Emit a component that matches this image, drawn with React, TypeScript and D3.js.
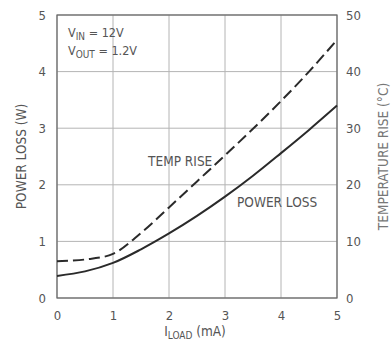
import React, { useEffect, useRef } from "react";
import * as d3 from "d3";

// load current (mA)
const iLoad = [0, 0.5, 1, 1.5, 2, 2.5, 3, 3.5, 4, 4.5, 5];
// power loss (W), left axis
const powerLoss = [0.39, 0.47, 0.62, 0.86, 1.14, 1.45, 1.79, 2.16, 2.56, 2.97, 3.4];
// temperature rise (°C), right axis
const tempRise = [6.5, 6.8, 7.8, 11.5, 16.0, 20.6, 25.2, 29.9, 34.8, 40.0, 45.6];

const xTicks = [0, 1, 2, 3, 4, 5];
const leftTicks = [0, 1, 2, 3, 4, 5];
const rightTicks = [0, 10, 20, 30, 40, 50];

const W = 391;
const H = 343;

const App = () => {
  const ref = useRef<SVGSVGElement>(null);

  useEffect(() => {
    const svg = d3.select(ref.current);
    svg.selectAll("*").remove();

    const m = { top: 15, right: 54, bottom: 45, left: 57 };
    const iw = W - m.left - m.right;
    const ih = H - m.top - m.bottom;
    const font = "'Liberation Sans Narrow', 'DejaVu Sans Condensed', sans-serif";
    const txt = "#555";

    const x = d3.scaleLinear().domain([0, 5]).range([0, iw]);
    const yL = d3.scaleLinear().domain([0, 5]).range([ih, 0]);
    const yR = d3.scaleLinear().domain([0, 50]).range([ih, 0]);

    const g = svg.append("g").attr("transform", `translate(${m.left},${m.top})`);

    // grid
    g.selectAll(".vgrid").data(xTicks).enter().append("line")
      .attr("x1", d => x(d)).attr("x2", d => x(d))
      .attr("y1", 0).attr("y2", ih)
      .attr("stroke", "#b4b4b4").attr("stroke-width", 1);
    g.selectAll(".hgrid").data(leftTicks).enter().append("line")
      .attr("y1", d => yL(d)).attr("y2", d => yL(d))
      .attr("x1", 0).attr("x2", iw)
      .attr("stroke", "#b4b4b4").attr("stroke-width", 1);
    g.append("rect").attr("width", iw).attr("height", ih)
      .attr("fill", "none").attr("stroke", "#666").attr("stroke-width", 1.2);

    // axes (text only)
    const xAxis = g.append("g").attr("transform", `translate(0,${ih})`)
      .call(d3.axisBottom(x).tickValues(xTicks).tickSize(0).tickPadding(13).tickFormat(d3.format("d")));
    const lAxis = g.append("g")
      .call(d3.axisLeft(yL).tickValues(leftTicks).tickSize(0).tickPadding(11).tickFormat(d3.format("d")));
    const rAxis = g.append("g").attr("transform", `translate(${iw},0)`)
      .call(d3.axisRight(yR).tickValues(rightTicks).tickSize(0).tickPadding(9).tickFormat(d3.format("d")));
    [xAxis, lAxis, rAxis].forEach(a => {
      a.select(".domain").remove();
      a.selectAll("text").attr("fill", txt).attr("font-size", 13).attr("font-family", font);
    });

    // curves
    const powerLine = d3.line<number>()
      .x((_, i) => x(iLoad[i])).y(d => yL(d)).curve(d3.curveCatmullRom.alpha(0.5));
    const tempLine = d3.line<number>()
      .x((_, i) => x(iLoad[i])).y(d => yR(d)).curve(d3.curveCatmullRom.alpha(0.5));

    g.append("path").datum(tempRise).attr("d", tempLine)
      .attr("fill", "none").attr("stroke", "#2a2a2a").attr("stroke-width", 2)
      .attr("stroke-dasharray", "11,5");
    g.append("path").datum(powerLoss).attr("d", powerLine)
      .attr("fill", "none").attr("stroke", "#2a2a2a").attr("stroke-width", 2);

    // annotations
    const lab = (xx: number, yy: number, s: string, anchor = "start") =>
      g.append("text").attr("x", xx).attr("y", yy).attr("text-anchor", anchor)
        .attr("fill", txt).attr("font-size", 13.5).attr("font-family", font).text(s);
    lab(x(2.2), yR(23.3), "TEMP RISE", "middle");
    lab(x(3.93), yL(1.61), "POWER LOSS", "middle");

    const v1 = g.append("text").attr("x", 11).attr("y", 22).attr("fill", txt)
      .attr("font-size", 12.5).attr("font-family", font);
    v1.append("tspan").text("V");
    v1.append("tspan").attr("font-size", 10).attr("dy", 3).text("IN");
    v1.append("tspan").attr("dy", -3).text(" = 12V");
    const v2 = g.append("text").attr("x", 11).attr("y", 40).attr("fill", txt)
      .attr("font-size", 12.5).attr("font-family", font);
    v2.append("tspan").text("V");
    v2.append("tspan").attr("font-size", 10).attr("dy", 3).text("OUT");
    v2.append("tspan").attr("dy", -3).text(" = 1.2V");

    // axis titles
    svg.append("text")
      .attr("transform", `translate(26,${m.top + ih / 2}) rotate(-90)`)
      .attr("text-anchor", "middle").attr("fill", txt)
      .attr("font-size", 13.5).attr("font-family", font).text("POWER LOSS (W)");
    svg.append("text")
      .attr("transform", `translate(388,${m.top + ih / 2}) rotate(-90)`)
      .attr("text-anchor", "middle").attr("fill", "#777")
      .attr("font-size", 13.5).attr("font-family", font).text("TEMPERATURE RISE (°C)");
    const xt = svg.append("text").attr("x", 195).attr("y", 336)
      .attr("text-anchor", "middle").attr("fill", txt)
      .attr("font-size", 13.5).attr("font-family", font);
    xt.append("tspan").text("I");
    xt.append("tspan").attr("font-size", 10).attr("dy", 3).text("LOAD");
    xt.append("tspan").attr("dy", -3).text(" (mA)");
  }, []);

  return (
    <svg ref={ref} width={W} height={H}
      style={{ position: "absolute", left: 0, top: 0, background: "#fff" }} />
  );
};

export default App;
